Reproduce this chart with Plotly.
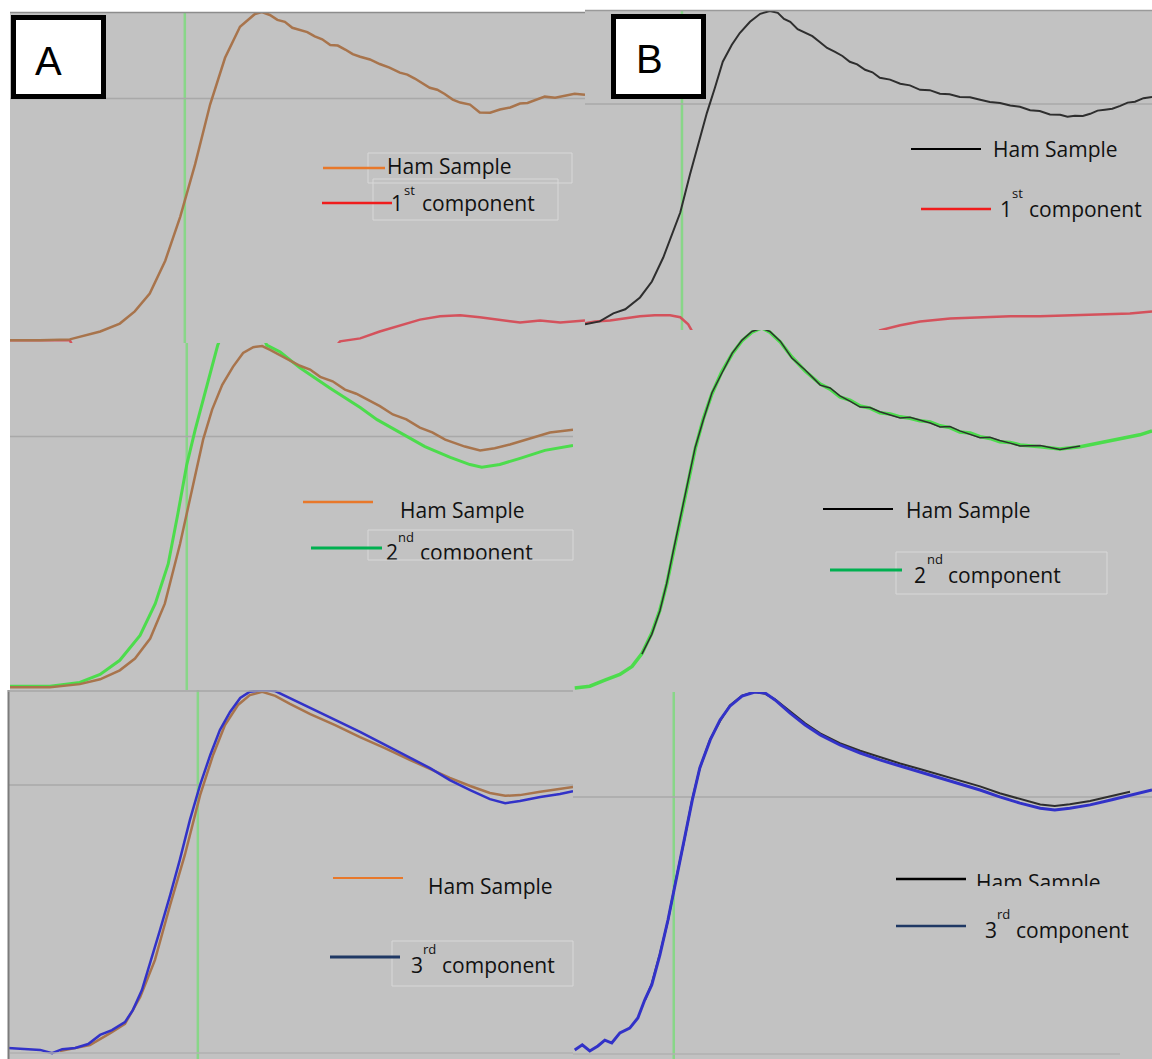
import plotly.graph_objects as go

W, H = 1152, 1059

# ---------------------------------------------------------------------------
# Data: normalised time (0-100 % of window) and normalised signal (0-100 %)
# ---------------------------------------------------------------------------

# Panel A-1 : ham sample vs 1st component
a1_ham_t = [0, 5.2, 10.4, 15.7, 19.1, 21.7, 24.3, 27.0, 29.6, 32.2, 34.8, 37.4, 40.0,
            42.6, 43.8, 45.2, 46.5, 47.8, 49.1, 50.4, 51.7, 53.0, 54.3, 55.7, 57.0,
            58.3, 59.6, 60.9, 62.6, 64.3, 66.0, 67.8, 69.1, 70.4, 71.7, 73.0, 74.3,
            75.6, 77.0, 78.3, 80.0, 81.7, 83.5, 85.2, 87.0, 88.7, 90.0, 91.0, 93.0,
            94.8, 96.5, 98.2, 100]
a1_ham = [0.3, 0.3, 0.6, 3.0, 5.4, 9.1, 14.5, 24.5, 37.8, 53.8, 71.9, 86.1, 95.5,
          99.4, 100, 99.1, 97.6, 97.0, 95.2, 94.6, 93.9, 92.6, 91.7, 90.0, 89.8,
          88.6, 87.2, 86.4, 85.6, 84.2, 83.1, 81.6, 81.0, 79.8, 78.3, 77.0, 76.4,
          75.1, 73.4, 72.5, 71.9, 69.5, 69.4, 70.4, 71.0, 72.2, 72.4, 73.0, 74.3,
          74.0, 74.6, 75.2, 74.9]
a1_c1_t = [0, 5.0, 10.4, 12.0, 55.0, 57.4, 60.9, 64.3, 67.8, 71.3, 74.8, 78.3,
           81.7, 85.2, 88.7, 92.2, 95.7, 100]
a1_c1 = [0.3, 0.3, 0.3, -5, -5, 0, 0.9, 3.0, 4.8, 6.6, 7.6, 7.9,
         7.3, 6.6, 5.7, 6.3, 5.7, 6.3]

# Panel B-1 : ham sample vs 1st component
b1_ham_t = [0, 2.6, 5.0, 7.1, 9.7, 11.8, 13.8, 15.3, 16.8, 18.5, 19.9, 21.5, 22.9,
            24.3, 25.9, 27.3, 29.1, 30.9, 32.6, 34.0, 35.1, 36.2, 37.5, 38.8, 40.1,
            41.4, 42.7, 44.1, 45.4, 46.7, 48.0, 49.4, 50.7, 52.0, 53.8, 55.6, 57.3,
            59.1, 60.8, 62.6, 64.3, 66.1, 67.9, 69.7, 71.4, 73.2, 75.0, 76.7, 78.5,
            80.2, 82.0, 83.8, 85.1, 86.4, 87.8, 89.1, 90.4, 91.7, 93.0, 94.4, 95.7,
            97.0, 98.5, 100]
b1_ham = [1.6, 2.5, 5.0, 6.3, 10.0, 15.0, 22.5, 29.7, 36.6, 48.4, 57.8, 67.8, 75.6,
          83.8, 89.1, 92.8, 96.3, 98.8, 99.7, 99.1, 97.2, 96.3, 94.0, 92.8, 91.8,
          90.0, 88.1, 86.9, 85.6, 83.8, 83.0, 81.3, 80.5, 78.8, 78.2, 76.9, 76.4,
          75.0, 74.9, 73.8, 73.6, 72.8, 72.7, 71.9, 71.2, 70.9, 70.1, 69.7, 68.6,
          68.4, 67.3, 67.2, 66.6, 66.9, 66.8, 67.5, 68.5, 68.8, 69.1, 70.0, 71.0,
          71.3, 72.4, 72.8]
b1_c1_t = [0, 1.8, 4.4, 7.1, 9.7, 12.3, 15.0, 16.8, 18.2, 18.9, 20.0, 50.0, 52.0,
           55.6, 59.1, 64.4, 69.7, 75.0, 80.2, 85.5, 90.8, 96.1, 100]
b1_c1 = [1.9, 2.5, 2.8, 3.4, 4.1, 4.4, 4.4, 3.8, 1.6, -0.6, -5, -5, -0.3,
         1.3, 2.5, 3.4, 3.8, 4.1, 4.1, 4.4, 4.7, 5.0, 5.6]

# Panel A-2 : ham sample vs 2nd component
a2_ham_t = [0, 7.1, 12.4, 16.0, 19.5, 22.2, 24.9, 27.5, 30.2, 32.9, 34.3, 35.9, 37.7,
            39.6, 41.4, 43.2, 44.8, 46.2, 48.8, 51.5, 53.3, 55.1, 57.3, 59.5, 61.5,
            63.4, 65.7, 68.0, 70.4, 72.8, 75.0, 77.3, 80.8, 83.5, 86.1, 88.8, 92.4,
            95.9, 100]
a2_ham = [0.3, 0.3, 1.2, 2.6, 5.2, 8.6, 14.4, 24.5, 41.8, 62.0, 72.0, 80.7, 87.9,
          93.1, 97.1, 98.8, 99.1, 98.0, 95.7, 93.4, 92.3, 90.2, 88.9, 86.5, 85.3,
          83.6, 81.7, 79.3, 77.9, 75.5, 74.1, 72.0, 70.0, 68.9, 69.5, 70.6, 72.3,
          74.1, 74.9]
a2_c2_t = [0, 7.1, 12.4, 16.0, 19.5, 23.1, 25.8, 28.1, 29.8, 31.4, 32.9, 34.3, 35.5,
           36.9, 38.7, 41.7, 44.0, 45.6, 48.0, 51.5, 56.8, 62.2, 65.2, 69.3, 73.7,
           78.2, 81.7, 83.8, 87.0, 90.6, 95.0, 100]
a2_c2 = [0.6, 0.6, 1.7, 4.0, 8.1, 15.3, 24.5, 36.0, 50.4, 64.8, 74.9, 83.6, 90.8,
         99.4, 106.6, 110.9, 105.2, 99.4, 97.4, 92.8, 87.0, 81.3, 77.8, 74.1, 70.0,
         66.9, 64.8, 64.0, 64.8, 66.6, 68.9, 70.3]

# Panel B-2 : ham sample vs 2nd component
b2_c2_t = [0.3, 2.9, 5.5, 8.1, 10.2, 11.9, 13.6, 15.0, 16.2, 17.3, 18.5, 19.7, 21.1,
           22.5, 24.0, 25.7, 27.5, 29.2, 30.9, 32.6, 34.0, 35.8, 37.8, 40.1, 42.7,
           44.4, 46.1, 47.9, 49.6, 51.3, 53.0, 54.8, 56.5, 58.2, 59.9, 61.7, 63.4,
           65.1, 66.8, 68.6, 70.3, 72.0, 73.7, 75.5, 77.2, 80.7, 84.1, 87.6, 91.0,
           94.5, 97.9, 100]
b2_c2 = [0.6, 1.1, 2.8, 4.4, 6.6, 10.2, 15.8, 22.2, 29.6, 38.0, 47.6, 57.3, 67.0,
         75.3, 82.3, 88.4, 93.4, 97.0, 99.4, 100.6, 99.4, 96.7, 92.5, 88.6, 85.0,
         83.6, 81.4, 80.5, 78.9, 78.3, 77.0, 76.7, 75.9, 75.5, 74.8, 74.5, 73.4,
         72.9, 71.7, 71.4, 70.4, 69.9, 69.0, 68.8, 68.1, 67.6, 67.0, 67.6, 68.7,
         69.8, 70.9, 72.0]
b2_ham_t = [11.9, 13.6, 15.0, 16.2, 17.3, 18.5, 19.7, 21.1, 22.5, 24.0, 25.7, 27.5,
            29.2, 30.9, 32.6, 34.0, 35.8, 37.8, 40.1, 42.7, 44.4, 46.1, 47.9, 49.6,
            51.3, 53.0, 54.8, 56.5, 58.2, 59.9, 61.7, 63.4, 65.1, 66.8, 68.6, 70.3,
            72.0, 73.7, 75.5, 77.2, 80.7, 84.1, 87.6]
b2_ham = [10.0, 15.5, 22.0, 29.8, 38.5, 47.9, 57.0, 67.4, 75.0, 82.6, 88.0, 93.6,
          97.2, 99.6, 100.5, 99.6, 96.9, 92.2, 88.9, 84.7, 83.9, 81.7, 80.2, 78.6,
          78.5, 77.3, 76.4, 75.6, 75.8, 75.1, 74.2, 73.1, 73.2, 72.0, 71.1, 70.1,
          70.2, 69.3, 68.6, 67.8, 67.9, 66.8, 67.8]

# Panel A-3 : ham sample vs 3rd component
a3_c3_t = [0, 3.0, 5.7, 7.8, 9.6, 11.9, 14.2, 16.3, 18.4, 20.7, 22.1, 23.7, 25.1,
           26.9, 28.7, 30.4, 32.2, 34.0, 35.8, 37.5, 39.3, 41.1, 42.8, 45.0, 47.3,
           49.9, 53.5, 57.9, 62.3, 66.7, 71.2, 74.7, 78.2, 81.8, 85.3, 88.0, 90.6,
           94.2, 97.7, 100]
a3_c3 = [1.9, 1.6, 1.4, 0.5, 1.6, 1.9, 3.0, 5.5, 6.8, 9.0, 12.3, 17.8, 24.7,
         34.2, 43.8, 53.4, 64.4, 74.0, 82.2, 89.0, 94.0, 97.8, 99.5, 100, 99.7,
         97.8, 95.1, 91.8, 88.5, 84.9, 81.4, 78.6, 75.3, 72.6, 70.1, 69.0, 69.6,
         70.7, 71.5, 72.3]
a3_ham_t = [9.2, 14.5, 18.1, 20.7, 23.4, 26.0, 28.7, 31.3, 34.0, 36.3, 38.4, 40.7,
            42.8, 45.0, 47.3, 49.9, 53.5, 57.9, 62.3, 66.7, 71.2, 74.7, 78.2, 81.8,
            85.3, 88.0, 90.6, 94.2, 97.7, 100]
a3_ham = [1.1, 2.7, 6.0, 8.5, 15.9, 26.0, 41.1, 54.8, 71.2, 82.2, 90.4, 95.9,
          98.6, 99.5, 98.4, 96.2, 93.4, 90.4, 87.1, 84.1, 80.8, 78.4, 75.9, 73.7,
          71.8, 71.0, 71.2, 72.1, 72.9, 73.4]

# Panel B-3 : ham sample vs 3rd component
b3_c3_t = [0.3, 1.6, 2.9, 4.3, 5.5, 6.7, 8.1, 9.8, 11.2, 12.4, 13.6, 15.0, 16.4,
           17.8, 19.2, 20.6, 21.9, 23.7, 25.4, 27.1, 29.2, 31.4, 33.2, 34.9, 37.5,
           40.1, 42.7, 46.1, 49.6, 53.0, 56.5, 59.9, 63.4, 66.8, 70.3, 73.7, 77.2,
           80.7, 83.2, 85.8, 89.3, 92.7, 96.2, 100]
b3_c3 = [1.4, 2.8, 1.1, 2.5, 4.1, 3.3, 6.1, 7.4, 10.2, 15.2, 19.3, 27.5, 37.2,
         48.2, 59.2, 70.2, 79.1, 86.8, 92.3, 96.1, 98.9, 100, 99.7, 97.8, 94.2,
         90.9, 88.2, 85.4, 83.2, 81.3, 79.6, 78.0, 76.3, 74.7, 73.0, 71.1, 69.4,
         68.0, 67.5, 68.0, 68.9, 70.2, 71.6, 73.0]
b3_ham_t = [12.4, 13.6, 15.0, 16.4, 17.8, 19.2, 20.6, 21.9, 23.7, 25.4, 27.1, 29.2,
            31.4, 33.2, 34.9, 37.5, 40.1, 42.7, 46.1, 49.6, 53.0, 56.5, 59.9, 63.4,
            66.8, 70.3, 73.7, 77.2, 80.7, 83.2, 85.8, 89.3, 92.7, 96.2]
b3_ham = [15.0, 19.6, 27.8, 37.0, 48.5, 59.0, 70.5, 79.0, 87.0, 92.0, 96.3, 99.0,
          100, 99.5, 98.0, 94.6, 91.4, 88.6, 85.9, 83.8, 82.0, 80.3, 78.8, 77.2,
          75.6, 74.0, 72.1, 70.5, 69.0, 68.6, 69.1, 70.0, 71.2, 72.5]

# Per-panel reference markers: vertical marker time and horizontal baseline level
panel_names = ["A1", "B1", "A2", "B2", "A3", "B3"]
marker_time = [30.4, 17.1, 31.4, 17.1, 33.6, 17.4]
baseline_level = [73.7, 70.6, 72.9, 70.6, 74.0, 71.1]

# Legend wording
ham_label = "Ham Sample"
component_nums = ["1", "2", "3"]
component_sups = ["st", "nd", "rd"]
component_word = "component"
panel_letters = ["A", "B"]

# ---------------------------------------------------------------------------
# Layout helpers (pixel boxes -> paper fractions)
# ---------------------------------------------------------------------------
def fx(p):
    return p / W


def fy(p):
    return 1 - p / H


# left, top, right, bottom in pixels
boxes = {
    "A1": (10, 12, 585, 343),
    "B1": (585, 10, 1152, 331),
    "A2": (10, 343, 573, 690),
    "B2": (573, 330, 1152, 692),
    "A3": (8, 690, 573, 1059),
    "B3": (573, 692, 1152, 1059),
}
y_floor = {"A1": -0.5, "B1": -0.5, "A2": -0.5, "B2": -0.5, "A3": -1.1, "B3": -1.1}

BROWN = "#a8744c"
DARK = "#2e2e2e"
RED = "#d4525c"
LGREEN = "#4cdc4c"
BLUE = "#3232c8"
MARK = "#88d688"
BASE = "#a9a9a9"

fig = go.Figure()
layout = dict(
    width=W, height=H, margin=dict(l=0, r=0, t=0, b=0),
    paper_bgcolor="white", plot_bgcolor="#c2c2c2", showlegend=False,
)


def ax_id(i):
    return "" if i == 1 else str(i)


for i, name in enumerate(panel_names, start=1):
    l, t, r, b = boxes[name]
    layout["xaxis" + ax_id(i)] = dict(domain=[fx(l), fx(r)], range=[0, 100], visible=False,
                                      fixedrange=True, anchor="y" + ax_id(i))
    layout["yaxis" + ax_id(i)] = dict(domain=[fy(b), fy(t)], range=[y_floor[name], 100],
                                      visible=False, fixedrange=True, anchor="x" + ax_id(i))

# overlay areas that clip partially hidden legend text
layout["xaxis7"] = dict(domain=[fx(380), fx(573)], range=[380, 573], visible=False, anchor="y7")
layout["yaxis7"] = dict(domain=[fy(560), fy(525)], range=[560, 525], visible=False, anchor="x7")
layout["xaxis8"] = dict(domain=[fx(970), fx(1152)], range=[970, 1152], visible=False, anchor="y8")
layout["yaxis8"] = dict(domain=[fy(886), fy(860)], range=[886, 860], visible=False, anchor="x8")


def curve(i, t, y, color, width):
    fig.add_trace(go.Scatter(x=t, y=y, mode="lines", xaxis="x" + ax_id(i), yaxis="y" + ax_id(i),
                             line=dict(color=color, width=width), hoverinfo="skip"))


curve(1, a1_c1_t, a1_c1, RED, 2.5)
curve(1, a1_ham_t, a1_ham, BROWN, 2.5)
curve(2, b1_c1_t, b1_c1, RED, 2.5)
curve(2, b1_ham_t, b1_ham, DARK, 2)
curve(3, a2_c2_t, a2_c2, LGREEN, 3)
curve(3, a2_ham_t, a2_ham, BROWN, 2.5)
curve(4, b2_c2_t, b2_c2, LGREEN, 3.5)
curve(4, b2_ham_t, b2_ham, DARK, 1.5)
curve(5, a3_ham_t, a3_ham, BROWN, 2.5)
curve(5, a3_c3_t, a3_c3, BLUE, 2.5)
curve(6, b3_ham_t, b3_ham, DARK, 2)
curve(6, b3_c3_t, b3_c3, BLUE, 3)

shapes = []
for i, name in enumerate(panel_names, start=1):
    xr, yr = "x" + ax_id(i), "y" + ax_id(i)
    shapes.append(dict(type="line", xref=xr, yref=yr + " domain", x0=marker_time[i - 1],
                       x1=marker_time[i - 1], y0=0, y1=1, layer="below",
                       line=dict(color=MARK, width=2.5)))
    shapes.append(dict(type="line", xref=xr + " domain", yref=yr, x0=0, x1=1,
                       y0=baseline_level[i - 1], y1=baseline_level[i - 1], layer="below",
                       line=dict(color=BASE, width=1.5)))

# panel edges
def pline(x0, y0, x1, y1, color, width):
    shapes.append(dict(type="line", xref="paper", yref="paper", x0=fx(x0), y0=fy(y0),
                       x1=fx(x1), y1=fy(y1), line=dict(color=color, width=width)))


pline(10, 12.5, 585, 12.5, "#8c8c8c", 1.5)
pline(585, 10.5, 1152, 10.5, "#9a9a9a", 1.5)
pline(8.5, 690, 8.5, 1059, "#7c7c7c", 2)
pline(8, 691, 573, 691, "#a6a6a6", 1.5)
pline(10, 1053, 573, 1053, "#b0b0b0", 1.5)
pline(573, 1054, 1120, 1054, "#b0b0b0", 1.5)

# faint text frames
def frame(x0, y0, x1, y1):
    shapes.append(dict(type="rect", xref="paper", yref="paper", x0=fx(x0), y0=fy(y0),
                       x1=fx(x1), y1=fy(y1), line=dict(color="#d8d8d8", width=1)))


frame(368, 153, 572, 183)
frame(373, 179, 558, 220)
frame(368, 530, 573, 560)
frame(896, 552, 1107, 594)
frame(392, 941, 573, 986)

# legend key lines
LEG_ORANGE = "#e8782a"
LEG_RED = "#f01c1c"
LEG_GREEN = "#00b050"
LEG_NAVY = "#1f3864"
LEG_BLACK = "#000000"
legend_keys = [
    (323, 385, 168, LEG_ORANGE, 2.5), (322, 392, 203, LEG_RED, 2.5),
    (911, 981, 149, LEG_BLACK, 2), (921, 991, 209, LEG_RED, 2.5),
    (303, 373, 502, LEG_ORANGE, 2.5), (311, 382, 548, LEG_GREEN, 3),
    (823, 893, 509, LEG_BLACK, 2), (830, 902, 570, LEG_GREEN, 3),
    (333, 403, 878, LEG_ORANGE, 2), (330, 400, 957, LEG_NAVY, 3),
    (896, 966, 879, LEG_BLACK, 2.5), (896, 966, 926, LEG_NAVY, 2.5),
]
for x0, x1, yy, col, wd in legend_keys:
    pline(x0, yy, x1, yy, col, wd)

# panel letter boxes
for (x0, y0, x1, y1) in [(13.5, 17.5, 103.5, 96.5), (613.5, 16.5, 703.5, 96.5)]:
    shapes.append(dict(type="rect", xref="paper", yref="paper", x0=fx(x0), y0=fy(y0),
                       x1=fx(x1), y1=fy(y1), fillcolor="white",
                       line=dict(color="black", width=5)))

layout["shapes"] = shapes

FONT = "Open Sans"
annotations = []


def label(x, y, text, size=21, color="#111111"):
    annotations.append(dict(x=fx(x), y=fy(y), xref="paper", yref="paper", text=text,
                            showarrow=False, xanchor="left", yanchor="middle", borderpad=0,
                            font=dict(family=FONT, size=size, color=color)))


def comp_label(x_num, x_sup, x_word, y, k, rise=16):
    label(x_num, y, component_nums[k])
    label(x_sup, y - rise, component_sups[k], size=13)
    label(x_word, y, component_word)


label(386, 166, ham_label)
comp_label(390, 403, 421, 203, 0, rise=13)
label(992, 149, ham_label)
comp_label(999, 1011, 1028, 209, 0)
label(399, 510, ham_label)
label(905, 510, ham_label)
comp_label(913, 926, 947, 575, 1)
label(427, 886, ham_label)
comp_label(410, 422, 441, 965, 2)
comp_label(984, 996, 1015, 930, 2)

annotations.append(dict(x=fx(48), y=fy(61), xref="paper", yref="paper", text=panel_letters[0],
                        showarrow=False, xanchor="center", yanchor="middle",
                        font=dict(family="Liberation Sans", size=40, color="black")))
annotations.append(dict(x=fx(649), y=fy(59), xref="paper", yref="paper", text=panel_letters[1],
                        showarrow=False, xanchor="center", yanchor="middle",
                        font=dict(family="Liberation Sans", size=40, color="black")))
layout["annotations"] = annotations

# clipped legend text (drawn inside small plot areas so the overflow is cut)
fig.add_trace(go.Scatter(x=[386, 398, 420], y=[555, 539, 555], xaxis="x7", yaxis="y7",
                         mode="text", text=[component_nums[1], component_sups[1], component_word],
                         textposition="middle right", cliponaxis=True, hoverinfo="skip",
                         textfont=dict(family=FONT, size=[21, 13, 21], color="#111111")))
fig.add_trace(go.Scatter(x=[976], y=[885], xaxis="x8", yaxis="y8", mode="text",
                         text=[ham_label], textposition="middle right", cliponaxis=True,
                         hoverinfo="skip", textfont=dict(family=FONT, size=21, color="#111111")))

fig.update_layout(**layout)
fig.write_html("out.html")
